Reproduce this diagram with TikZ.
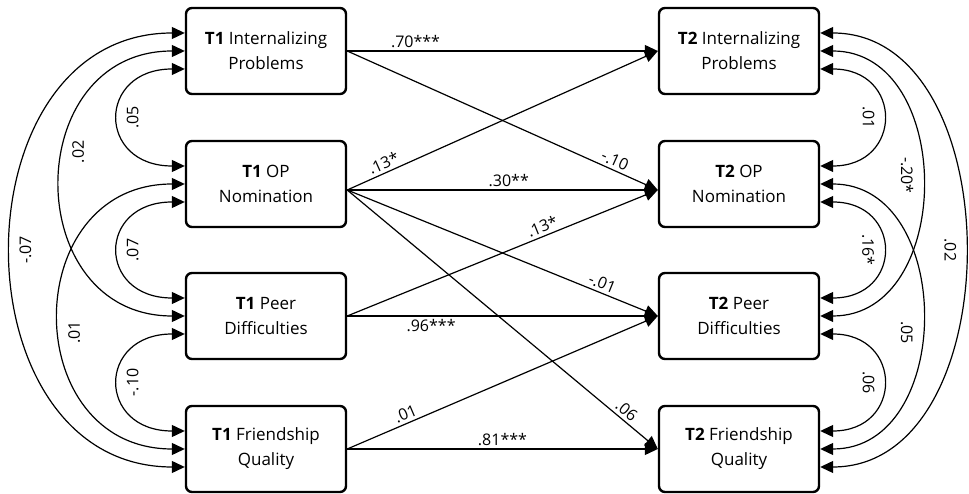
\documentclass[tikz,border=0pt]{standalone}
\usepackage{fontspec}
\setmainfont{Open Sans}
\usetikzlibrary{arrows.meta}
\tikzset{
  box/.style={draw, line width=2.4pt, rounded corners=6pt, minimum width=160pt,
    minimum height=86pt, align=center, font=\fontsize{17}{25}\selectfont},
  lbl/.style={font=\fontsize{16}{19}\selectfont, inner sep=3pt},
  arclbl/.style={font=\fontsize{16}{19}\selectfont, inner sep=2pt, outer sep=6pt, anchor=north},
  reg/.style={->, line width=1.2pt},
  cov/.style={<->, line width=1.2pt}
}
\begin{document}
\begin{tikzpicture}[x=1pt, y=1pt, >={Triangle[length=13pt,width=12pt]}]
      \useasboundingbox (0,0) rectangle (969,494);
      \node[box] (t1int) at (266,443) {\textbf{T1} Internalizing\\Problems};
      \node[box] (t1op) at (266,310) {\textbf{T1} OP\\Nomination};
      \node[box] (t1peer) at (266,178) {\textbf{T1} Peer\\Difficulties};
      \node[box] (t1fq) at (266,45) {\textbf{T1} Friendship\\Quality};
      \node[box] (t2int) at (739,443) {\textbf{T2} Internalizing\\Problems};
      \node[box] (t2op) at (739,310) {\textbf{T2} OP\\Nomination};
      \node[box] (t2peer) at (739,178) {\textbf{T2} Peer\\Difficulties};
      \node[box] (t2fq) at (739,45) {\textbf{T2} Friendship\\Quality};
      \draw[reg] (t1int.east) -- node[lbl, pos=.22, above] {.70***} (t2int.west);
      \draw[reg] (t1int.east) -- node[lbl, pos=.85, above, sloped] {-.10} ([yshift=-6pt]t2op.west);
      \draw[reg] ([yshift=-6pt]t1op.east) -- node[lbl, pos=.13, above, sloped] {.13*} (t2int.west);
      \draw[reg] ([yshift=-6pt]t1op.east) -- node[lbl, pos=.52, above] {.30**} ([yshift=-6pt]t2op.west);
      \draw[reg] (t1peer.east) -- node[lbl, pos=.64, above, sloped] {.13*} ([yshift=-6pt]t2op.west);
      \draw[reg] ([yshift=-6pt]t1op.east) -- node[lbl, pos=.81, above, sloped] {-.01} (t2peer.west);
      \draw[reg] (t1peer.east) -- node[lbl, pos=.27, below] {.96***} (t2peer.west);
      \draw[reg] ([yshift=-6pt]t1op.east) -- node[lbl, pos=.88, above, sloped] {.06} (t2fq.west);
      \draw[reg] (t1fq.east) -- node[lbl, pos=.2, above, sloped] {.01} (t2peer.west);
      \draw[reg] (t1fq.east) -- node[lbl, pos=.5, above] {.81***} (t2fq.west);
      \draw[cov] ([yshift=-18pt]t1int.west) to[out=180, in=180, distance=88pt] node[arclbl, pos=.5, rotate=90] {.05} ([yshift=18pt]t1op.west);
      \draw[cov] (t1int.west) to[out=180, in=180, distance=165pt] node[arclbl, pos=.42, rotate=90] {.02} (t1peer.west);
      \draw[cov] ([yshift=18pt]t1int.west) to[out=180, in=180, distance=231pt] node[arclbl, pos=.5, rotate=90] {-.07} ([yshift=-18pt]t1fq.west);
      \draw[cov] (t1op.west) to[out=180, in=180, distance=167pt] node[arclbl, pos=.54, rotate=90] {.01} (t1fq.west);
      \draw[cov] ([yshift=-18pt]t1op.west) to[out=180, in=180, distance=88pt] node[arclbl, pos=.5, rotate=90] {.07} ([yshift=18pt]t1peer.west);
      \draw[cov] ([yshift=-18pt]t1peer.west) to[out=180, in=180, distance=88pt] node[arclbl, pos=.5, rotate=90] {-.10} ([yshift=18pt]t1fq.west);
      \draw[cov] ([yshift=-18pt]t2int.east) to[out=0, in=0, distance=83pt] node[arclbl, pos=.5, rotate=-90] {.01} ([yshift=18pt]t2op.east);
      \draw[cov] (t2int.east) to[out=0, in=0, distance=135pt] node[arclbl, pos=.48, rotate=-90] {-.20*} (t2peer.east);
      \draw[cov] ([yshift=18pt]t2int.east) to[out=0, in=0, distance=192pt] node[arclbl, pos=.5, rotate=-90] {.02} ([yshift=-18pt]t2fq.east);
      \draw[cov] (t2op.east) to[out=0, in=0, distance=135pt] node[arclbl, pos=.54, rotate=-90] {.05} (t2fq.east);
      \draw[cov] ([yshift=-18pt]t2op.east) to[out=0, in=0, distance=83pt] node[arclbl, pos=.5, rotate=-90] {.16*} ([yshift=18pt]t2peer.east);
      \draw[cov] ([yshift=-18pt]t2peer.east) to[out=0, in=0, distance=83pt] node[arclbl, pos=.5, rotate=-90] {.06} ([yshift=18pt]t2fq.east);
\end{tikzpicture}
\end{document}
